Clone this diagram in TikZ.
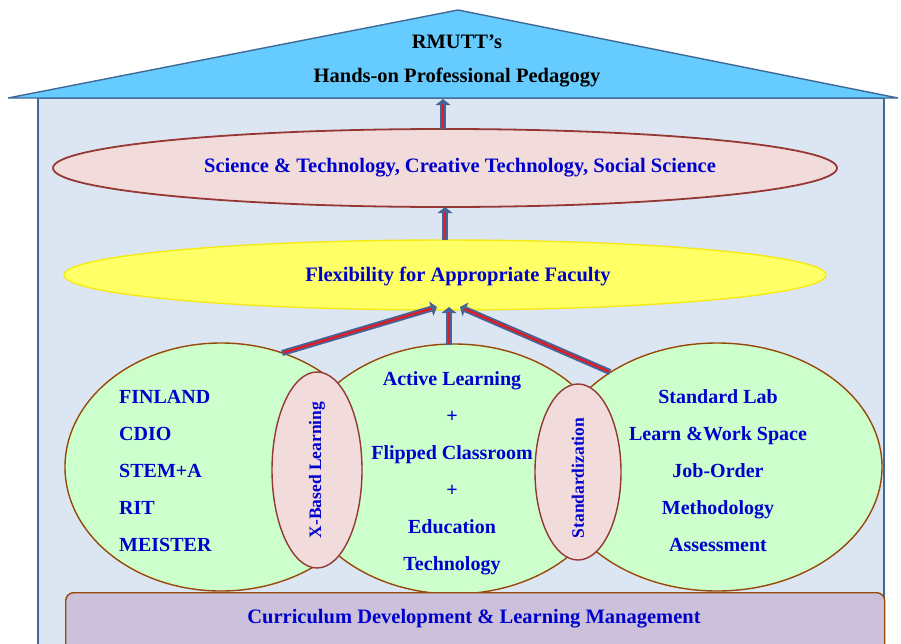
\documentclass[tikz,border=0pt]{standalone}
\usepackage{fontspec}
\setmainfont{Liberation Serif}
\usetikzlibrary{shapes.geometric,arrows.meta}
\definecolor{roofblue}{RGB}{102,204,255}
\definecolor{roofline}{RGB}{65,105,150}
\definecolor{housefill}{RGB}{220,230,242}
\definecolor{pinkfill}{RGB}{242,220,219}
\definecolor{darkred}{RGB}{149,55,53}
\definecolor{yellowfill}{RGB}{255,255,102}
\definecolor{yellowline}{RGB}{245,235,20}
\definecolor{greenfill}{RGB}{204,255,204}
\definecolor{brownline}{RGB}{152,72,7}
\definecolor{purplefill}{RGB}{204,192,218}
\definecolor{textblue}{RGB}{0,0,204}
\definecolor{arrowblue}{RGB}{70,100,150}
\definecolor{arrowred}{RGB}{220,30,40}
\tikzset{
  ell/.style={ellipse, inner sep=0pt, line width=1.4pt},
  pinkell/.style={ell, draw=darkred, fill=pinkfill},
  greenell/.style={ell, draw=brownline, fill=greenfill},
  bluetext/.style={text=textblue, font=\bfseries\fontsize{20}{37}\selectfont},
  bigblue/.style={text=textblue, font=\bfseries\fontsize{20.5}{24}\selectfont},
  vertblue/.style={rotate=90, text=textblue, font=\bfseries\fontsize{17.5}{20}\selectfont},
  updarrow/.style={draw=arrowblue, line width=6pt,
    -{Triangle[length=6pt,width=15pt,line width=0pt]},
    postaction={draw=arrowred, line width=2.4pt, -, shorten >=5pt, shorten <=1.5pt}},
}
\begin{document}
\begin{tikzpicture}[x=1pt,y=-1pt]
\fill[white] (0,0) rectangle (901,643);
\useasboundingbox (0,0) rectangle (901,643);
% house body
\draw[roofline, fill=housefill, line width=1.2pt] (38,98) rectangle (884,660);
% roof
\draw[roofline, fill=roofblue, line width=1.4pt] (8,98) -- (458,10) -- (898,98) -- cycle;
\coordinate (roofbase) at (443,99);
\node[font=\bfseries\fontsize{20.5}{24}\selectfont] (rmutt) at (457,42) {RMUTT’s};
\node[font=\bfseries\fontsize{20.5}{24}\selectfont] (hop) at (457,78) {Hands-on Professional Pedagogy};
% top ellipse
\node[pinkell, line width=1.8pt, minimum width=784pt, minimum height=78pt] (sci) at (445,168) {};
\node[bigblue] (scit) at (460,168) {Science \& Technology, Creative Technology, Social Science};
% yellow ellipse
\node[ell, draw=yellowline, fill=yellowfill, minimum width=762pt, minimum height=70pt] (flex) at (445,275) {};
\node[bigblue] (flext) at (458,276) {Flexibility for Appropriate Faculty};
% three circles
\node[greenell, minimum width=312pt, minimum height=248pt] (cl) at (221,467) {};
\node[greenell, minimum width=320pt, minimum height=250pt] (cm) at (454,469) {};
\node[greenell, minimum width=330pt, minimum height=248pt] (cr) at (717,467) {};
% small ellipses
\node[pinkell, minimum width=90pt, minimum height=196pt] (xb) at (317,470) {};
\node[vertblue] (xbt) at (317,470) {X-Based Learning};
\node[pinkell, minimum width=86pt, minimum height=176pt] (st) at (578,472) {};
\node[vertblue] (stt) at (578,478) {Standardization};
% circle texts
\node[bluetext, align=left, anchor=west, inner sep=0pt] (lt) at (119,471)
  {FINLAND\\CDIO\\STEM+A\\RIT\\MEISTER};
\node[bluetext, align=center, inner sep=0pt] (mt) at (452,473)
  {Active Learning\\+\\Flipped Classroom\\+\\Education\\Technology};
\node[bluetext, align=center, inner sep=0pt] (rt) at (718,471)
  {Standard Lab\\Learn \&Work Space\\Job-Order\\Methodology\\Assessment};
% bottom box
\node[draw=brownline, fill=purplefill, line width=1.4pt, rounded corners=8pt,
  minimum width=819pt, minimum height=70pt, anchor=north west, inner sep=0pt] (cur) at (65,592) {};
\node[bigblue] (curt) at (474,619) {Curriculum Development \& Learning Management};
% arrow coordinates
\coordinate (aL) at (282,353);
\coordinate (aM) at (449,345);
\coordinate (aR) at (610,372);
\coordinate (tL) at (437,307);
\coordinate (tM) at (449,307);
\coordinate (tR) at (460,307);
\coordinate (fTop) at (445,240);
\coordinate (sBot) at (445,207);
\coordinate (sTop) at (443,129);
% arrows
\draw[updarrow] (aL) -- (tL);
\draw[updarrow] (aM) -- (tM);
\draw[updarrow] (aR) -- (tR);
\draw[updarrow] (fTop) -- (sBot);
\draw[updarrow] (sTop) -- (roofbase);
\end{tikzpicture}
\end{document}
